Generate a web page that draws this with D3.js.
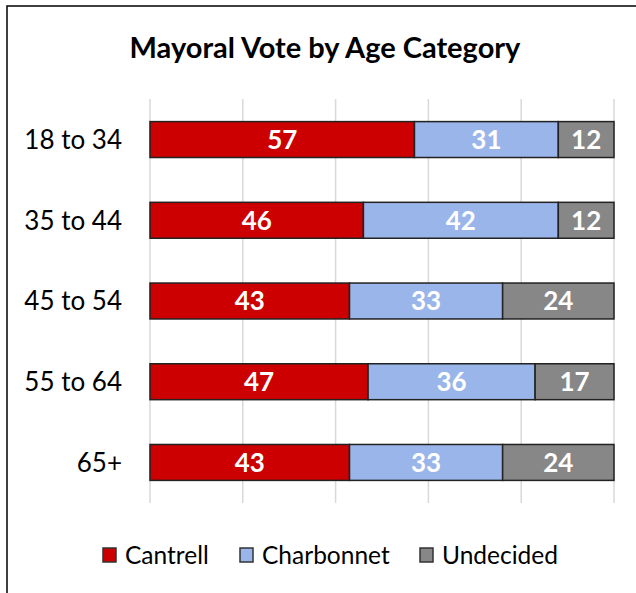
<!DOCTYPE html>
<html><head><meta charset="utf-8">
<script src="https://cdn.jsdelivr.net/npm/d3@7"></script>
<style>body{margin:0;background:#fff}svg{display:block}text{font-family:Lato,"Open Sans",sans-serif}</style>
</head><body><svg id="c" width="636" height="593"></svg>
<script>
const categories = ["18 to 34","35 to 44","45 to 54","55 to 64","65+"];
const seriesNames = ["Cantrell","Charbonnet","Undecided"];
const cantrell = [57,46,43,47,43];
const charbonnet = [31,42,33,36,33];
const undecided = [12,12,24,17,24];
const xTicks = [0,20,40,60,80,100];
const colors = ["#CC0000","#9AB5E9","#878787"];
const title = "Mayoral Vote by Age Category";

const svg = d3.select("#c");
svg.append("rect").attr("x",7).attr("y",6).attr("width",640).attr("height",600)
  .attr("fill","#fff").attr("stroke","#000").attr("stroke-width",1.5);

svg.append("text").attr("x",325).attr("y",58).attr("text-anchor","middle")
  .attr("font-size",29).attr("font-weight","bold").text(title);

const x = d3.scaleLinear().domain([0,100]).range([150,614]);
const y = d3.scaleBand().domain(categories).range([99,503]).paddingInner(0.555).paddingOuter(0.28);

svg.append("g").selectAll("line").data(xTicks).join("line")
  .attr("x1",d=>x(d)).attr("x2",d=>x(d)).attr("y1",99).attr("y2",503)
  .attr("stroke","#d9d9d9").attr("stroke-width",1.5);

const data = categories.map((c,i)=>({cat:c, Cantrell:cantrell[i], Charbonnet:charbonnet[i], Undecided:undecided[i]}));
const stack = d3.stack().keys(seriesNames)(data);

const g = svg.append("g");
stack.forEach((s,si)=>{
  const sg = g.append("g");
  sg.selectAll("rect").data(s).join("rect")
    .attr("x",d=>x(d[0])).attr("width",d=>x(d[1])-x(d[0]))
    .attr("y",d=>y(d.data.cat)).attr("height",y.bandwidth())
    .attr("fill",colors[si]).attr("stroke","#222").attr("stroke-width",1.5);
  sg.selectAll("text").data(s).join("text")
    .attr("x",d=>(x(d[0])+x(d[1]))/2).attr("y",d=>y(d.data.cat)+y.bandwidth()/2)
    .attr("dy","0.36em").attr("text-anchor","middle").attr("fill","#fff")
    .attr("font-size",26).attr("font-weight","bold").text(d=>d[1]-d[0]);
});

svg.append("g").selectAll("text").data(categories).join("text")
  .attr("x",122).attr("y",d=>y(d)+y.bandwidth()/2).attr("dy","0.36em")
  .attr("text-anchor","end").attr("font-size",26).attr("fill","#000").text(d=>d);

const legX = [103,240,420];
const lg = svg.append("g").selectAll("g").data(seriesNames).join("g")
  .attr("transform",(d,i)=>`translate(${legX[i]},548)`);
lg.append("rect").attr("width",13).attr("height",14).attr("fill",(d,i)=>colors[i])
  .attr("stroke","#333").attr("stroke-width",1.5);
lg.append("text").attr("x",22).attr("y",7).attr("dy","0.36em").attr("font-size",24.5).text(d=>d);
</script></body></html>
